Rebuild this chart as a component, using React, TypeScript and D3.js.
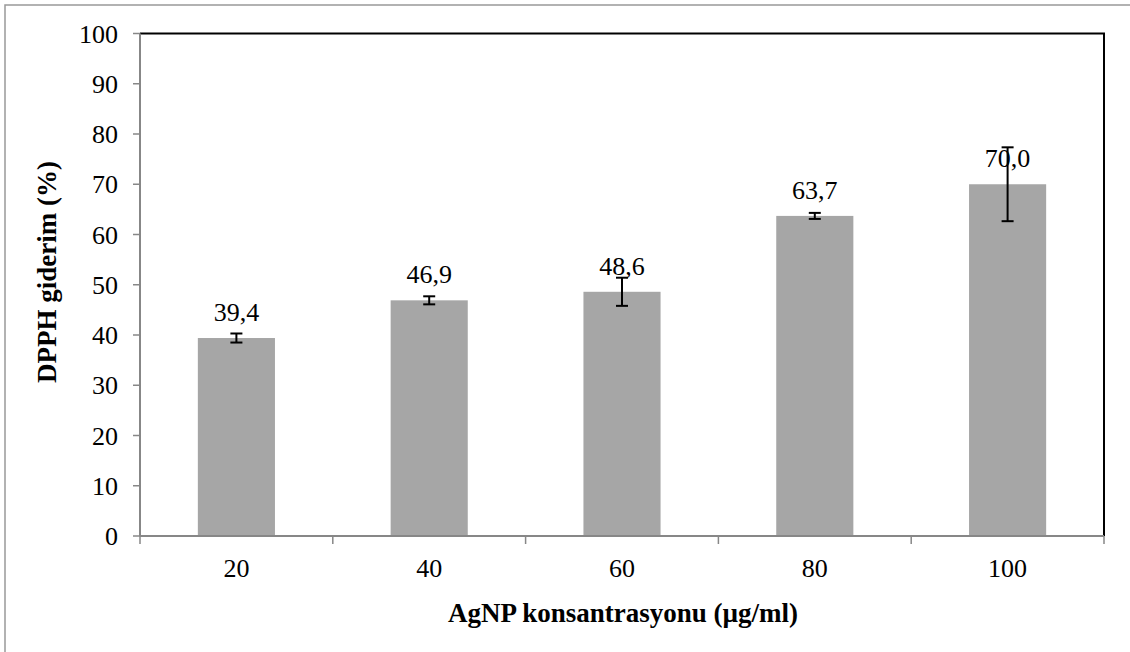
import React from "react";
import * as d3 from "d3";

const categories = ["20", "40", "60", "80", "100"];
const values = [39.4, 46.9, 48.6, 63.7, 70.0];
const errors = [0.9, 0.8, 2.8, 0.6, 7.35];
const labels = ["39,4", "46,9", "48,6", "63,7", "70,0"];
const yTicks = [0, 10, 20, 30, 40, 50, 60, 70, 80, 90, 100];

const W = 1130;
const H = 652;
const m = { left: 140, right: 1104, top: 33.5, bottom: 536 };
const FONT = "Liberation Serif";

export default function App() {
  const x = d3.scaleBand<string>().domain(categories).range([m.left, m.right]).paddingInner(0.6).paddingOuter(0.3);
  const y = d3.scaleLinear().domain([0, 100]).range([m.bottom, m.top]);
  const band = (m.right - m.left) / categories.length;
  const bounds = d3.range(categories.length + 1).map((i) => m.left + i * band);
  return (
    <svg width={W} height={H} style={{ position: "absolute", left: 0, top: 0, background: "#fff", fontFamily: "'Liberation Serif', serif" }}>
      <rect x={5} y={5} width={W + 10} height={H + 10} fill="#fff" stroke="#999" strokeWidth={1.5} />
      {values.map((v, i) => (
        <rect key={i} x={x(categories[i])} y={y(v)} width={x.bandwidth()} height={y(0) - y(v)} fill="#a6a6a6" />
      ))}
      <path d={`M${m.left},${m.top}H${m.right}V${m.bottom}`} fill="none" stroke="#000" strokeWidth={2} />
      <line x1={m.left} x2={m.left} y1={m.top} y2={m.bottom} stroke="#878787" strokeWidth={2} />
      {yTicks.map((t) => (
        <g key={t}>
          <line x1={m.left - 7} x2={m.left} y1={y(t)} y2={y(t)} stroke="#878787" strokeWidth={1.5} />
          <text x={118} y={y(t)} dy="0.35em" textAnchor="end" fontFamily={FONT} fontSize={26} fill="#000">{t}</text>
        </g>
      ))}
      <line x1={m.left} x2={m.right} y1={m.bottom} y2={m.bottom} stroke="#878787" strokeWidth={2} />
      {bounds.map((b, i) => (
        <line key={i} x1={b} x2={b} y1={m.bottom} y2={m.bottom + 8} stroke="#878787" strokeWidth={1.5} />
      ))}
      {categories.map((c) => (
        <text key={c} x={(x(c) as number) + x.bandwidth() / 2} y={577} textAnchor="middle" fontFamily={FONT} fontSize={26} fill="#000">{c}</text>
      ))}
      {values.map((v, i) => {
        const cx = (x(categories[i]) as number) + x.bandwidth() / 2;
        const y1 = y(v + errors[i]);
        const y2 = y(v - errors[i]);
        return (
          <g key={i} stroke="#000" strokeWidth={2}>
            <line x1={cx} x2={cx} y1={y1} y2={y2} />
            <line x1={cx - 6} x2={cx + 6} y1={y1} y2={y1} />
            <line x1={cx - 6} x2={cx + 6} y1={y2} y2={y2} />
          </g>
        );
      })}
      {values.map((v, i) => (
        <text key={i} x={(x(categories[i]) as number) + x.bandwidth() / 2} y={y(v) - 17} textAnchor="middle" fontFamily={FONT} fontSize={26} fill="#000">{labels[i]}</text>
      ))}
      <text x={623} y={622} textAnchor="middle" fontFamily={FONT} fontSize={27} fontWeight="bold" fill="#000">AgNP konsantrasyonu (µg/ml)</text>
      <text transform={`translate(56,272) rotate(-90)`} textAnchor="middle" fontFamily={FONT} fontSize={27} fontWeight="bold" fill="#000">DPPH giderim (%)</text>
    </svg>
  );
}
